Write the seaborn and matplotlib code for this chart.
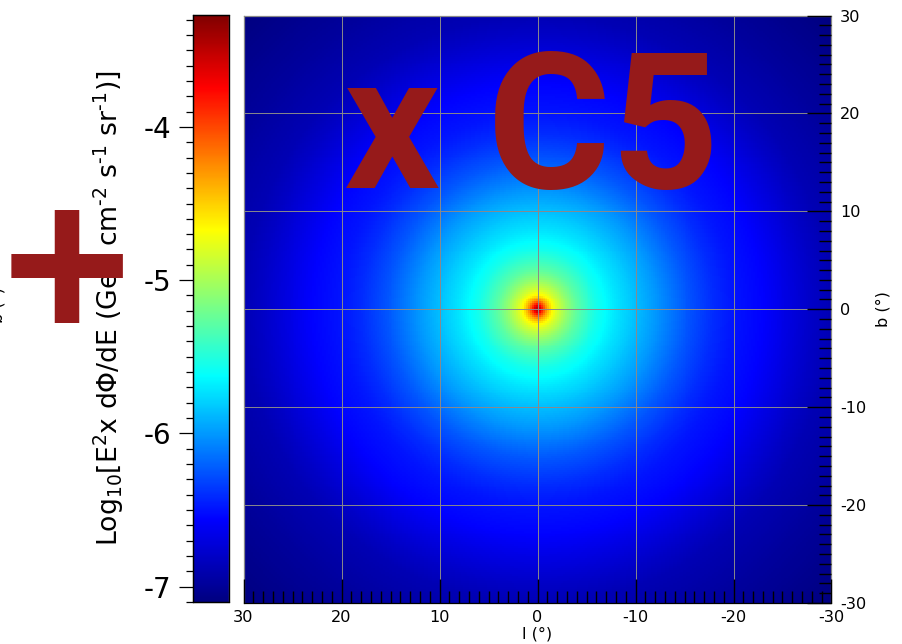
import numpy as np
import matplotlib
matplotlib.use("Agg")
import matplotlib.pyplot as plt
from matplotlib.colors import LinearSegmentedColormap
import seaborn as sns

# Angular distance from the centre (deg) and log10 flux
radius_deg = [0, 0.3, 0.6, 1.0, 1.5, 2, 3, 4, 5, 6, 7, 8, 10, 12, 15, 18, 20, 23, 25, 28, 30, 35, 42.5]
log_flux = [-3.45, -3.6, -3.95, -4.35, -4.65, -4.83, -5.08, -5.28, -5.42, -5.55, -5.63, -5.72,
            -5.86, -6.0, -6.23, -6.41, -6.49, -6.56, -6.66, -6.8, -6.88, -6.98, -7.1]
lon_ticks = [30, 20, 10, 0, -10, -20, -30]
lat_ticks = [30, 20, 10, 0, -10, -20, -30]
cbar_ticks = [-7, -6, -5, -4]
cbar_label = (r'Log$_{10}$[E$^{2}$x d$\Phi$/dE (GeV cm$^{\text{-}2}$ '
              r's$^{\text{-}1}$ sr$^{\text{-}1}$)]')
vmin, vmax = -7.1, -3.27
cmap_nodes = [(0, '#000080'), (0.14, '#0000ff'), (0.385, '#00ffff'),
              (0.634, '#ffff00'), (0.877, '#ff0000'), (1, '#800000')]

sns.set_style("white")
plt.rcParams['font.family'] = ['DejaVu Sans']
plt.rcParams['text.color'] = 'black'
plt.rcParams['axes.labelcolor'] = 'black'
plt.rcParams['xtick.color'] = 'black'
plt.rcParams['ytick.color'] = 'black'
W, H = 903, 644
fig = plt.figure(figsize=(W / 100, H / 100), dpi=100)
def box(x0, y0, x1, y1):
    return [x0 / W, 1 - y1 / H, (x1 - x0) / W, (y1 - y0) / H]
ax = fig.add_axes(box(243.5, 15.5, 831.5, 603))
cax = fig.add_axes(box(193, 15, 229, 602))

n = 300
step = 60 / n
centres = 30 - step * (np.arange(n) + 0.5)
lon, lat = np.meshgrid(centres, centres)
grid = np.interp(np.hypot(lon, lat), radius_deg, log_flux)

cmap = LinearSegmentedColormap.from_list('jet_like', cmap_nodes, N=512)
sns.heatmap(grid, ax=ax, cbar_ax=cax, cmap=cmap, vmin=vmin, vmax=vmax,
            xticklabels=False, yticklabels=False, rasterized=True)

to_cell = lambda v: (30 - np.asarray(v, float)) / step
ax.set_xticks(to_cell(lon_ticks), [str(v) for v in lon_ticks])
ax.set_yticks(to_cell(lat_ticks), [str(v) for v in lat_ticks])
ax.set_xticks(to_cell(np.arange(-30, 31)), minor=True)
ax.set_yticks(to_cell(np.arange(-30, 31)), minor=True)
ax.yaxis.tick_right()
ax.yaxis.set_label_position("right")
ax.tick_params(axis='x', which='major', direction='in', length=17, width=1.0, color='black',
               labelsize=11.6, pad=5, bottom=True, top=False)
ax.tick_params(axis='x', which='minor', direction='in', length=9, width=1.0, color='black',
               bottom=True, top=False)
ax.tick_params(axis='y', which='major', direction='in', length=17, width=1.0, color='black',
               labelsize=11.6, pad=6, right=True, left=False)
ax.tick_params(axis='y', which='minor', direction='in', length=9, width=1.0, color='black',
               right=True, left=False)
for t in ax.get_xticklabels() + ax.get_yticklabels():
    t.set_rotation(0)
ax.set_axisbelow(False)
ax.grid(True, which='major', color='#8a8a8a', linewidth=0.7)
for side, sp in ax.spines.items():
    sp.set_visible(True)
    sp.set_linewidth(0.9)
    sp.set_color('black' if side == 'bottom' else '#888888')
ax.set_xlabel('l (°)', fontsize=11.6, labelpad=1)
ax.set_ylabel('b (°)', fontsize=11.6, labelpad=7, rotation=90)

cax.yaxis.tick_left()
cax.yaxis.set_label_position("left")
cax.set_yticks(cbar_ticks, [str(v) for v in cbar_ticks])
cax.set_yticks(np.arange(-71, -32) / 10, minor=True)
cax.tick_params(axis='y', which='major', direction='out', length=10, width=0.9, color='black',
                labelsize=20, pad=6, left=True, right=False)
cax.tick_params(axis='y', which='minor', direction='out', length=5, width=0.9, color='black',
                left=True, right=False)
for side, sp in cax.spines.items():
    sp.set_visible(True)
    sp.set_linewidth(0.9)
    sp.set_color('#888888' if side == 'right' else 'black')
fig.text(108.5 / W, 1 - 308 / H, cbar_label, rotation=90, fontsize=19.2, ha='center', va='center')

# clipped left-edge label
fig.text(-2 / W, 1 - 305 / H, 'b (°)', rotation=90, fontsize=11.6, ha='center', va='center')

red = '#961a1a'
fig.text(532 / W, 1 - 188 / H, 'x C5', color=red, fontsize=136, fontweight='bold',
         family='Roboto', ha='center', va='baseline')
fig.text(66.5 / W, 1 - 283 / H, '+', color=red, fontsize=160, fontweight='bold',
         family='Liberation Sans', ha='center', va='center')

fig.savefig('out.png', dpi=100)
